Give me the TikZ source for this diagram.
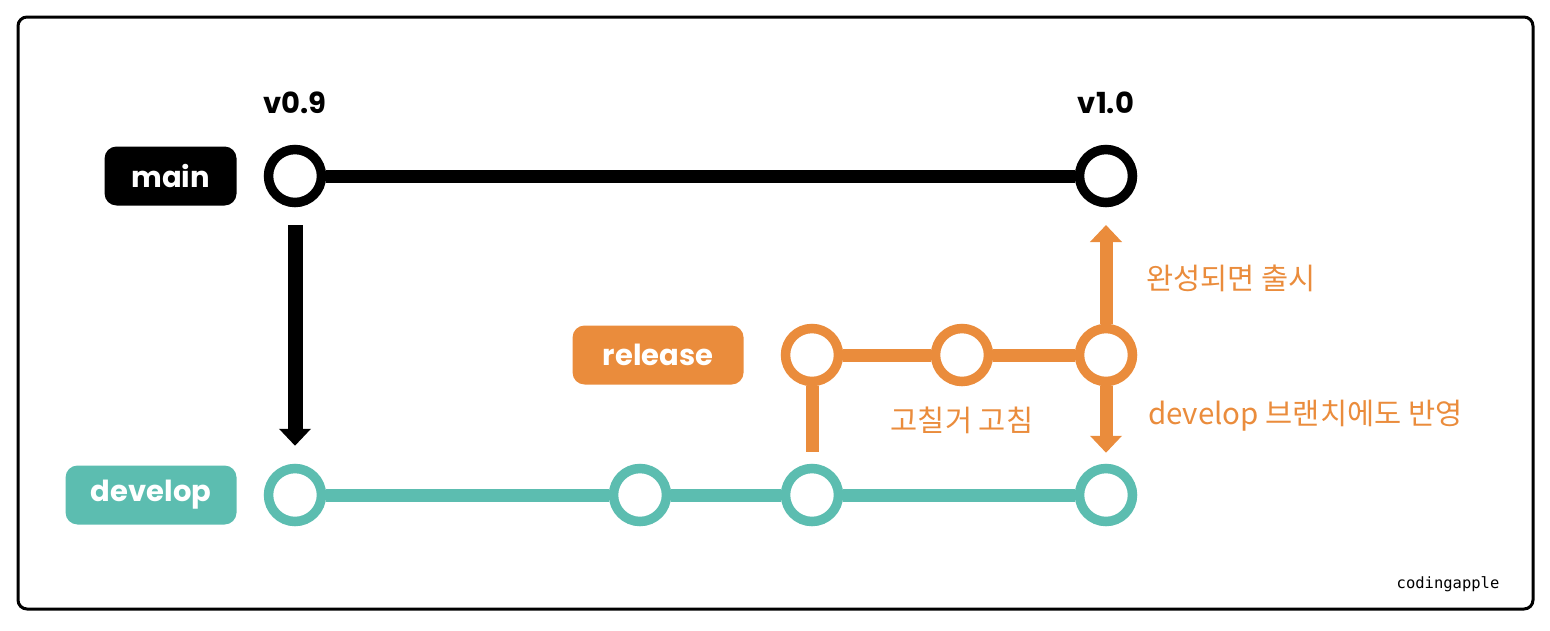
\documentclass[tikz,border=0pt]{standalone}
\usepackage{fontspec}
\newfontfamily\tagfont{Poppins}
\newfontfamily\krfont{Noto Sans CJK KR}
\newfontfamily\signfont{DejaVu Sans Mono}
\usetikzlibrary{
  arrows.meta,
  positioning
}
\definecolor{gitteal}{HTML}{5CBDB0}
\definecolor{gitorange}{HTML}{EA8C3C}

\begin{document}
\begin{tikzpicture}[
  x=1pt, y=-1pt,
  node distance=27pt,
  commit/.style={
    circle, draw=#1, line width=9.5pt, fill=white, minimum size=53pt, inner sep=0pt,
  },
  branch/.style={
    fill=#1, rounded corners=12pt, minimum width=171pt, minimum height=59pt, inner sep=0pt,
    text=white, font=\tagfont\bfseries\fontsize{29}{32}\selectfont,
  },
  flow/.style={draw=#1, line width=13pt},
  push/.style={line width=15pt, -{Triangle[width=31pt,length=17pt]}},
  version/.style={font=\tagfont\bfseries\fontsize{29}{32}\selectfont, inner sep=0pt},
  note/.style={text=gitorange, font=\krfont\fontsize{29.5}{34}\selectfont, inner sep=0pt},
]
\useasboundingbox (0,0) rectangle (1550,630);
\draw[line width=3pt, rounded corners=9pt] (18,17) rectangle (1533,609);

% commits
\node[commit=black] (m1) at (295,176) {};
\node[commit=black] (m2) at (1106,176) {};

\node[commit=gitorange] (r1) at (812,355) {};
\node[commit=gitorange] (r2) at (962,355) {};
\node[commit=gitorange] (r3) at (1106,355) {};

\node[commit=gitteal] (d1) at (295,495) {};
\node[commit=gitteal] (d2) at (640,495) {};
\node[commit=gitteal] (d3) at (812,495) {};
\node[commit=gitteal] (d4) at (1106,495) {};

% branch names
\node[branch=black, minimum width=132pt, left=27pt of m1] (mainlbl) {main};
\node[branch=gitorange, left=37pt of r1] (releaselbl) {release};
\node[branch=gitteal, left=27pt of d1] (developlbl) {develop};

\node[version, above=31pt of m1] (v09) {v0.9};
\node[version, above=31pt of m2] (v10) {v1.0};

% history lines
\draw[flow=black] (m1) -- (m2);
\draw[flow=gitteal] (d1) -- (d2);
\draw[flow=gitteal] (d2) -- (d3);
\draw[flow=gitteal] (d3) -- (d4);
\draw[flow=gitorange] (r1) -- (r2);
\draw[flow=gitorange] (r2) -- (r3);
\draw[flow=gitorange, shorten >=12pt] (r1.south) -- (d3.north);

% arrows
\coordinate (ship) at (1106,225);
\draw[push, black, shorten <=18pt, shorten >=18pt] (m1.south) -- (d1.north);
\draw[push, gitorange, line width=13pt] (r3.north) -- (ship);
\draw[push, gitorange, line width=13pt, shorten >=11pt] (r3.south) -- (d4.north);

% annotations
\node[note, anchor=west] (release) at (1146,278) {완성되면 출시};
\node[note, anchor=west] (merge) at (1148,416) {develop 브랜치에도 반영};
\node[note] (fix) at (962,420) {고칠거 고침};
\node[font=\signfont\fontsize{15.5}{18}\selectfont] (sign) at (1448,584) {codingapple};

\end{tikzpicture}
\end{document}
